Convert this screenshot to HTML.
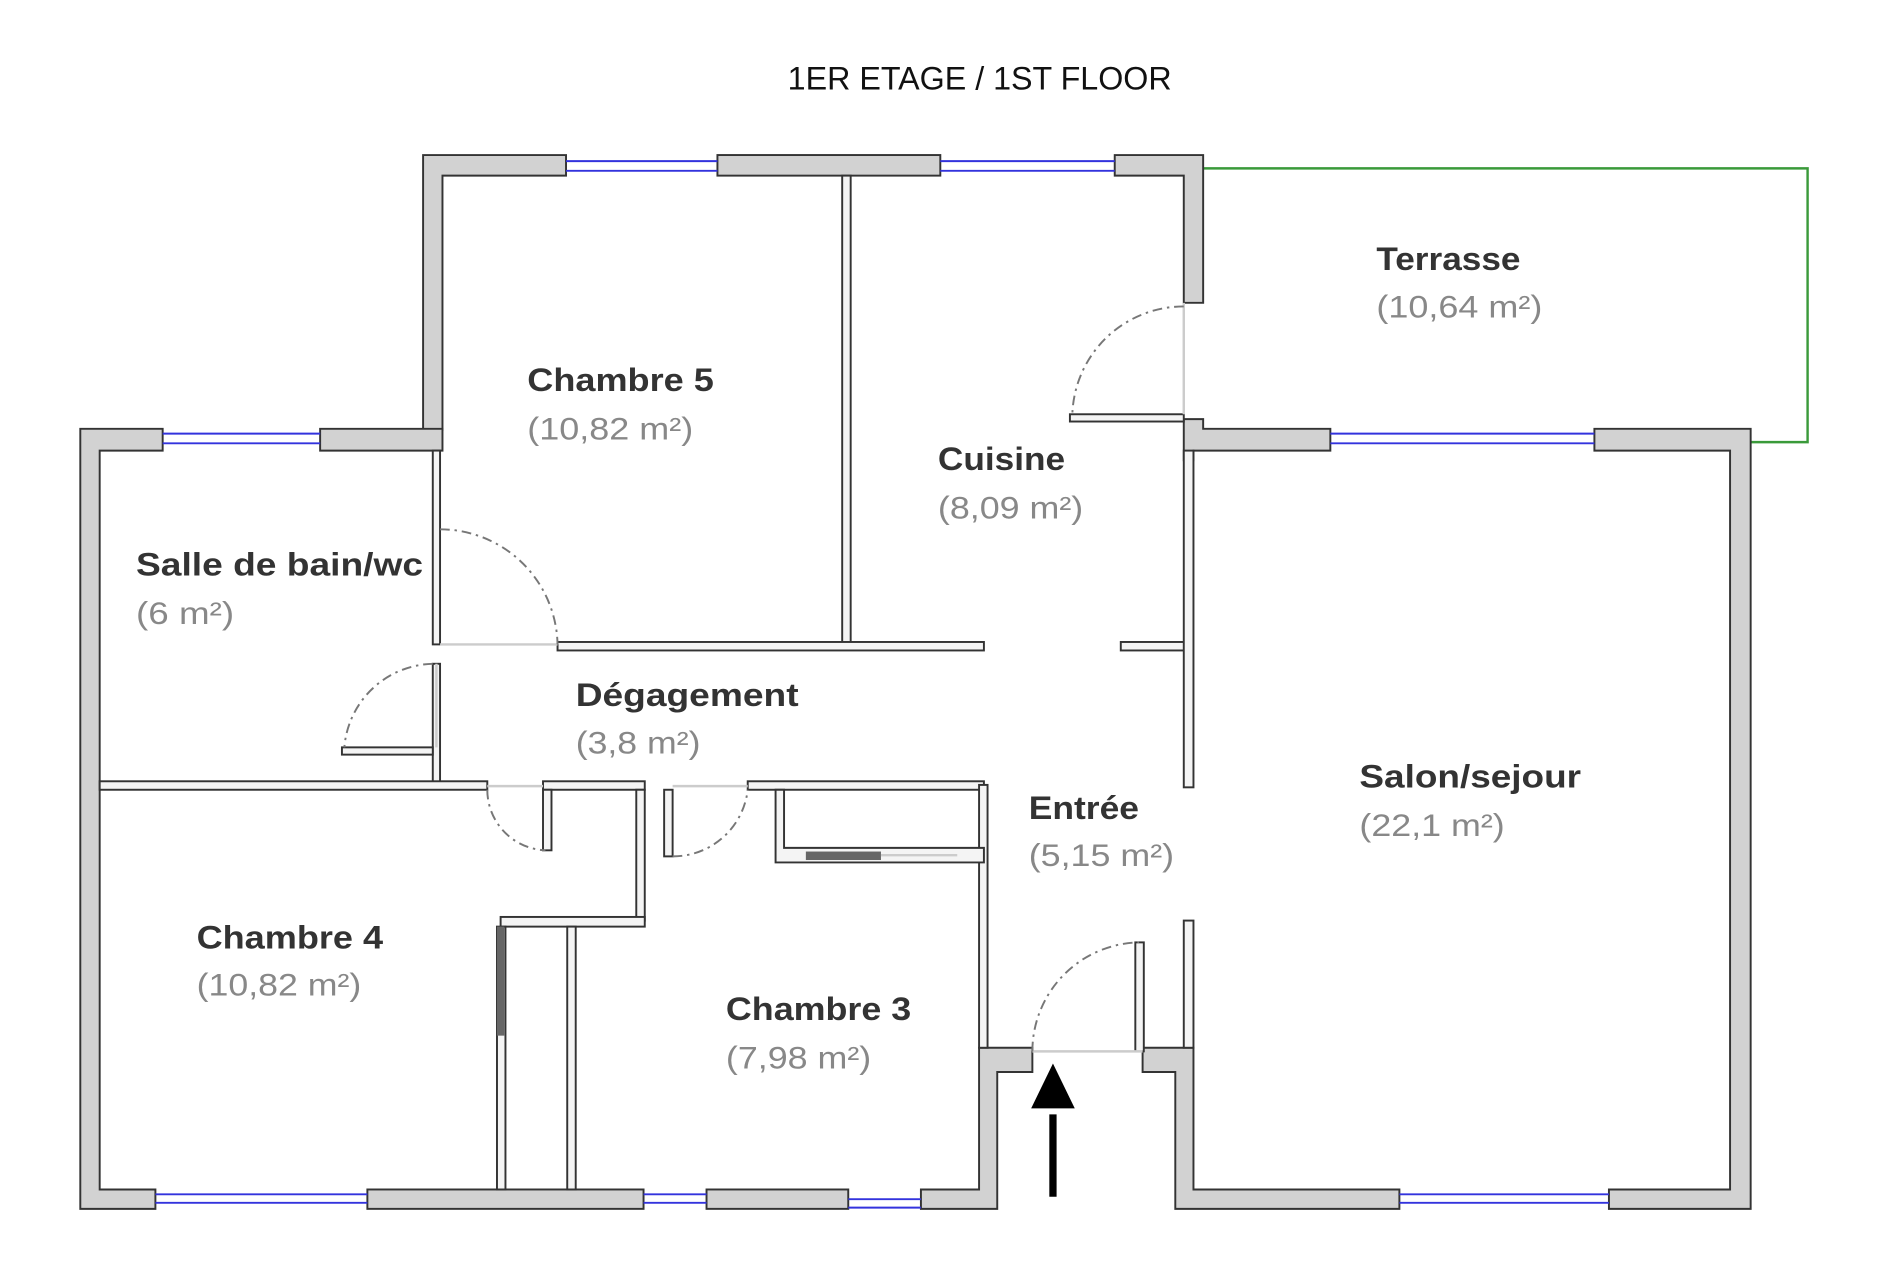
<!DOCTYPE html>
<html><head><meta charset="utf-8"><style>
html,body{margin:0;padding:0;background:#fff;width:1900px;height:1267px;overflow:hidden}
svg{display:block}
.w{fill:#d2d2d2;stroke:#333;stroke-width:1.6}
.iw{fill:#f4f4f4;stroke:#333;stroke-width:1.6}
.win{stroke:#3333dd;stroke-width:1.6}
.d{fill:none;stroke:#777;stroke-width:1.6;stroke-dasharray:8 4 2 4}
.th{stroke:#ccc;stroke-width:2}
.t{font-family:"Liberation Sans",sans-serif;font-weight:bold;font-size:27px;fill:#333}
.a{font-family:"Liberation Sans",sans-serif;font-size:26px;fill:#888}
</style></head><body>
<svg width="1900" height="1267" viewBox="0 0 1568 1046" xmlns="http://www.w3.org/2000/svg">
<text x="650" y="74" font-family="Liberation Sans,sans-serif" font-size="27" fill="#111" textLength="317" lengthAdjust="spacingAndGlyphs">1ER ETAGE / 1ST FLOOR</text>
<polyline points="985,139 1492,139 1492,365 1436,365" fill="none" stroke="#3a9a3a" stroke-width="2"/>
<path class="w" d="M349,128 H467 V145 H365 V355 H349 Z"/>
<rect class="w" x="592" y="128" width="184" height="17"/>
<path class="w" d="M920,128 H993 V250 H977 V145 H920 Z"/>
<line class="win" x1="467" y1="133" x2="592" y2="133"/><line class="win" x1="467" y1="141" x2="592" y2="141"/>
<line class="win" x1="776" y1="133" x2="920" y2="133"/><line class="win" x1="776" y1="141" x2="920" y2="141"/>
<path class="w" d="M66,354 H134 V372 H82 V982 H128 V998 H66 Z"/>
<path class="w" d="M264,354 H365 V372 H264 Z"/>
<line class="win" x1="134" y1="358" x2="264" y2="358"/><line class="win" x1="134" y1="366" x2="264" y2="366"/>
<rect class="w" x="303" y="982" width="228" height="16"/>
<rect class="w" x="583" y="982" width="117" height="16"/>
<path class="w" d="M760,982 H808 V865 H852 V885 H823 V998 H760 Z"/>
<line class="win" x1="128" y1="986" x2="303" y2="986"/><line class="win" x1="128" y1="993" x2="303" y2="993"/>
<line class="win" x1="531" y1="986" x2="583" y2="986"/><line class="win" x1="531" y1="993" x2="583" y2="993"/>
<line class="win" x1="700" y1="990" x2="760" y2="990"/><line class="win" x1="700" y1="997" x2="760" y2="997"/>
<path class="w" d="M943,865 H985 V982 H1155 V998 H970 V885 H943 Z"/>
<path class="w" d="M1328,982 H1428 V372 H1316 V354 H1445 V998 H1328 Z"/>
<line class="win" x1="1155" y1="986" x2="1328" y2="986"/><line class="win" x1="1155" y1="993" x2="1328" y2="993"/>
<path class="w" d="M977,346 H993 V354 H1098 V372 H985 V380 H977 Z"/>
<line class="win" x1="1098" y1="358" x2="1316" y2="358"/><line class="win" x1="1098" y1="366" x2="1316" y2="366"/>
<rect class="iw" x="695" y="145" width="7" height="387"/>
<rect class="iw" x="460" y="530" width="352" height="7"/>
<rect class="iw" x="925" y="530" width="53" height="7"/>
<rect class="iw" x="977" y="372" width="8" height="278"/>
<rect class="iw" x="977" y="760" width="8" height="105"/>
<rect class="iw" x="357" y="372" width="6" height="160"/>
<rect class="iw" x="357" y="548" width="6" height="100"/>
<rect class="iw" x="82" y="645" width="320" height="7"/>
<rect class="iw" x="448" y="645" width="84" height="7"/>
<rect class="iw" x="617" y="645" width="195" height="7"/>
<rect class="iw" x="808" y="648" width="7" height="217"/>
<path class="iw" d="M640,652 H647 V700 H812 V712 H640 Z"/>
<rect x="665" y="703" width="62" height="7" fill="#666"/>
<line class="th" x1="727" y1="706" x2="790" y2="706"/>
<rect class="iw" x="525" y="652" width="7" height="108"/>
<rect class="iw" x="413" y="757" width="119" height="8"/>
<rect class="iw" x="468" y="765" width="7" height="217"/>
<rect class="iw" x="410" y="765" width="7" height="217"/>
<rect x="410" y="765" width="6" height="90" fill="#666"/>
<rect class="iw" x="448" y="652" width="7" height="50"/>
<rect class="iw" x="548" y="652" width="7" height="55"/>
<rect class="iw" x="282" y="617" width="75" height="6"/>
<rect class="iw" x="883" y="342" width="94" height="6"/>
<rect class="iw" x="937" y="778" width="7" height="90"/>
<line class="th" x1="363" y1="532" x2="460" y2="532"/>
<line class="th" x1="360" y1="548" x2="360" y2="617"/>
<line class="th" x1="402" y1="649" x2="448" y2="649"/>
<line class="th" x1="555" y1="649" x2="617" y2="649"/>
<line class="th" x1="852" y1="868" x2="943" y2="868"/>
<line class="th" x1="977" y1="250" x2="977" y2="342"/>
<path class="d" d="M363,437 A97,97 0 0 1 460,532"/>
<path class="d" d="M357,548 A75,75 0 0 0 284,617"/>
<path class="d" d="M402,652 A50,50 0 0 0 450,702"/>
<path class="d" d="M555,707 A62,62 0 0 0 617,652"/>
<path class="d" d="M852,868 A90,90 0 0 1 940,778"/>
<path class="d" d="M977,253 A92,92 0 0 0 885,342"/>
<line x1="869" y1="920" x2="869" y2="988" stroke="#000" stroke-width="6"/>
<polygon points="869,878 851,915 887,915" fill="#000"/>
<text class="t" x="1136" y="223" textLength="119" lengthAdjust="spacingAndGlyphs">Terrasse</text><text class="a" x="1136" y="262" textLength="137" lengthAdjust="spacingAndGlyphs">(10,64 m²)</text>
<text class="t" x="435" y="323" textLength="154" lengthAdjust="spacingAndGlyphs">Chambre 5</text><text class="a" x="435" y="363" textLength="137" lengthAdjust="spacingAndGlyphs">(10,82 m²)</text>
<text class="t" x="774" y="388" textLength="105" lengthAdjust="spacingAndGlyphs">Cuisine</text><text class="a" x="774" y="428" textLength="120" lengthAdjust="spacingAndGlyphs">(8,09 m²)</text>
<text class="t" x="112" y="475" textLength="237" lengthAdjust="spacingAndGlyphs">Salle de bain/wc</text><text class="a" x="112" y="515" textLength="81" lengthAdjust="spacingAndGlyphs">(6 m²)</text>
<text class="t" x="475" y="583" textLength="184" lengthAdjust="spacingAndGlyphs">Dégagement</text><text class="a" x="475" y="622" textLength="103" lengthAdjust="spacingAndGlyphs">(3,8 m²)</text>
<text class="t" x="1122" y="650" textLength="183" lengthAdjust="spacingAndGlyphs">Salon/sejour</text><text class="a" x="1122" y="690" textLength="120" lengthAdjust="spacingAndGlyphs">(22,1 m²)</text>
<text class="t" x="849" y="676" textLength="91" lengthAdjust="spacingAndGlyphs">Entrée</text><text class="a" x="849" y="715" textLength="120" lengthAdjust="spacingAndGlyphs">(5,15 m²)</text>
<text class="t" x="162" y="783" textLength="154" lengthAdjust="spacingAndGlyphs">Chambre 4</text><text class="a" x="162" y="822" textLength="136" lengthAdjust="spacingAndGlyphs">(10,82 m²)</text>
<text class="t" x="599" y="842" textLength="153" lengthAdjust="spacingAndGlyphs">Chambre 3</text><text class="a" x="599" y="882" textLength="120" lengthAdjust="spacingAndGlyphs">(7,98 m²)</text>
</svg>
</body></html>
